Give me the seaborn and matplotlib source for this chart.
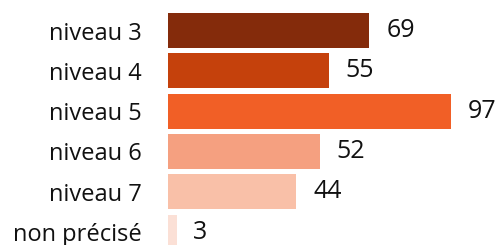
import pandas as pd
import matplotlib
matplotlib.use("Agg")
import matplotlib.pyplot as plt
import seaborn as sns

categories = ["niveau 3", "niveau 4", "niveau 5", "niveau 6", "niveau 7", "non précisé"]
values = [69, 55, 97, 52, 44, 3]
colors = ["#842b0b", "#c5410c", "#f15f26", "#f5a080", "#f9c0a8", "#fbe0d6"]

df = pd.DataFrame({"cat": categories, "val": values})

sns.set_style("white")
plt.rcParams["font.family"] = ["Open Sans", "DejaVu Sans"]

fig = plt.figure(figsize=(4.96, 2.45), dpi=100)
ax = fig.add_axes([168 / 496, 0, 328 / 496, 1])

sns.barplot(data=df, y="cat", x="val", hue="cat", palette=colors,
            order=categories, hue_order=categories, legend=False,
            width=0.87, saturation=1, linewidth=0, ax=ax)

ax.set_xlim(0, 328 / 2.92)
ax.set_ylim(5.32, -0.757)

for i, v in enumerate(values):
    ax.annotate(str(v), (v, i), xytext=(12, 0), textcoords="offset points",
                va="center", ha="left", fontsize=18, color="#111111")

ax.set_xlabel("")
ax.set_ylabel("")
ax.set_xticks([])
ax.tick_params(axis="y", length=0, pad=19, labelsize=17, labelcolor="#111111")
sns.despine(ax=ax, left=True, bottom=True)

fig.savefig("out.png", dpi=100)
